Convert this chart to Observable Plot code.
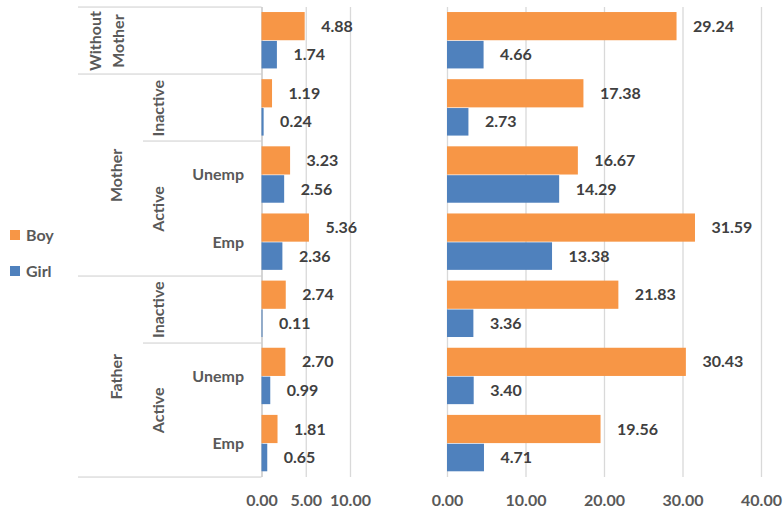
<!DOCTYPE html>
<html><head><meta charset="utf-8">
<script src="https://cdn.jsdelivr.net/npm/d3@7"></script>
<script src="https://cdn.jsdelivr.net/npm/@observablehq/plot@0.6"></script>
<style>
body{margin:0;background:#fff;font-family:Lato,"Open Sans",sans-serif;}
#chart{position:relative;width:783px;height:514px;overflow:hidden;background:#fff;}
#chart svg{position:absolute;left:0;top:0;}
.legend{position:absolute;left:10px;font:700 16px Lato,sans-serif;color:#595959;display:flex;align-items:center;height:20px;line-height:20px;}
.legend span{display:inline-block;width:10px;height:10px;margin-right:6px;}
</style></head><body><div id="chart"></div>
<script>
// ---- data ----
const groups = ["Without Mother", "Mother Inactive", "Mother Active Unemp", "Mother Active Emp",
                "Father Inactive", "Father Active Unemp", "Father Active Emp"];
const series = ["Boy", "Girl"];
const colors = ["#F79646", "#4F81BD"];
const boyLeft   = [4.88, 1.19, 3.23, 5.36, 2.74, 2.70, 1.81];
const girlLeft  = [1.74, 0.24, 2.56, 2.36, 0.11, 0.99, 0.65];
const boyRight  = [29.24, 17.38, 16.67, 31.59, 21.83, 30.43, 19.56];
const girlRight = [4.66, 2.73, 14.29, 13.38, 3.36, 3.40, 4.71];
const leftTicks  = [0, 5, 10];
const rightTicks = [0, 10, 20, 30, 40];
// hierarchical category labels (spans in category index)
const level1 = [{label: "Without\nMother", from: 0, to: 1}, {label: "Mother", from: 1, to: 4}, {label: "Father", from: 4, to: 7}];
const level2 = [{label: "Inactive", from: 1, to: 2}, {label: "Active", from: 2, to: 4},
                {label: "Inactive", from: 4, to: 5}, {label: "Active", from: 5, to: 7}];
const level3 = [{label: "Unemp", from: 2, to: 3}, {label: "Emp", from: 3, to: 4},
                {label: "Unemp", from: 5, to: 6}, {label: "Emp", from: 6, to: 7}];

// ---- build ----
const W = 783, H = 514, TOP = 7, BOTTOM = 477;
const fmt = d3.format(".2f");
const font = "Lato, 'Open Sans', sans-serif";

function rowsOf(boy, girl) {
  return groups.flatMap((g, i) => [
    {group: g, series: "Boy", value: boy[i], y1: i + 0.075, y2: i + 0.495},
    {group: g, series: "Girl", value: girl[i], y1: i + 0.505, y2: i + 0.915}
  ]);
}
const mid = d => (d.from + d.to) / 2;
const catStyle = {frameAnchor: "left", fontSize: 16, fontWeight: "bold", fill: "#595959", fontFamily: font};

// separator strips of the multi-level category axis, placed through the plot's y scale
function separators() {
  const e1 = Array.from(new Set(level1.flatMap(d => [d.from, d.to])));
  const e2 = Array.from(new Set(level2.flatMap(d => [d.from, d.to]))).filter(e => !e1.includes(e));
  const segs = [...e1.map(e => ({e, start: 78})), ...e2.map(e => ({e, start: 143}))];
  return (index, scales) => {
    const g = d3.create("svg:g");
    const x0 = scales.x(0);
    for (const s of segs) {
      const yy = Math.round(scales.y(s.e));
      g.append("rect").attr("x", s.start).attr("width", x0 - s.start).attr("y", yy - 0.6).attr("height", 1.3)
        .attr("fill", "#d9d9d9");
    }
    return g.node();
  };
}

function panel(boy, girl, ticks, xmax, left, right, withCats) {
  const rows = rowsOf(boy, girl);
  const marks = [];
  if (withCats) {
    marks.push(Plot.ruleX(ticks.filter(t => t !== 0), {stroke: "#d9d9d9", strokeWidth: 1.3}));
    marks.push(separators());
    marks.push(Plot.ruleX([0], {stroke: "#bfbfbf", strokeWidth: 1.3}));
    marks.push(Plot.text(level3, {...catStyle, y: mid, text: "label", dx: -18, textAnchor: "end"}));
    marks.push(Plot.text(level2, {...catStyle, y: mid, text: "label", dx: 158 - left, rotate: -90, textAnchor: "middle"}));
    marks.push(Plot.text(level1.filter(d => !d.label.includes("\n")), {...catStyle, y: mid, text: "label", dx: 116 - left, rotate: -90, textAnchor: "middle"}));
    marks.push(Plot.text(level1.filter(d => d.label.includes("\n")), {...catStyle, y: mid, text: "label", dx: 104.5 - left, rotate: -90, textAnchor: "middle", lineHeight: 1.44}));
  } else {
    marks.push(Plot.ruleX(ticks, {stroke: "#d9d9d9", strokeWidth: 1.3}));
  }
  marks.push(Plot.rectX(rows, {x1: 0, x2: "value", y1: "y1", y2: "y2", fill: "series"}));
  marks.push(Plot.text(rows, {x: "value", y: d => (d.y1 + d.y2) / 2, text: d => fmt(d.value), dx: 16,
    textAnchor: "start", fontSize: 16, fontWeight: "bold", fill: "#404040", fontFamily: font}));
  marks.push(Plot.axisX(ticks, {tickSize: 0, tickPadding: 17, tickFormat: fmt, fontSize: 16, label: null,
    fontWeight: "bold", fill: "#595959", fontFamily: font}));
  return Plot.plot({
    width: W, height: H,
    marginTop: TOP, marginBottom: H - BOTTOM, marginLeft: left, marginRight: W - right,
    x: {domain: [0, xmax], axis: null, label: null},
    y: {domain: [0, groups.length], reverse: true, axis: null},
    color: {domain: series, range: colors},
    style: {fontFamily: font, background: "transparent", overflow: "visible"},
    marks
  });
}

const chart = document.getElementById("chart");
chart.appendChild(panel(boyLeft, girlLeft, leftTicks, 10, 261.5, 350, true));
chart.appendChild(panel(boyRight, girlRight, rightTicks, 40, 447, 761, false));

// legend
const legendY = [235, 271];
series.forEach((s, i) => {
  const d = document.createElement("div");
  d.className = "legend";
  d.style.top = (legendY[i] - 10) + "px";
  d.innerHTML = `<span style="background:${colors[i]}"></span>${s}`;
  chart.appendChild(d);
});
</script>
</body></html>
